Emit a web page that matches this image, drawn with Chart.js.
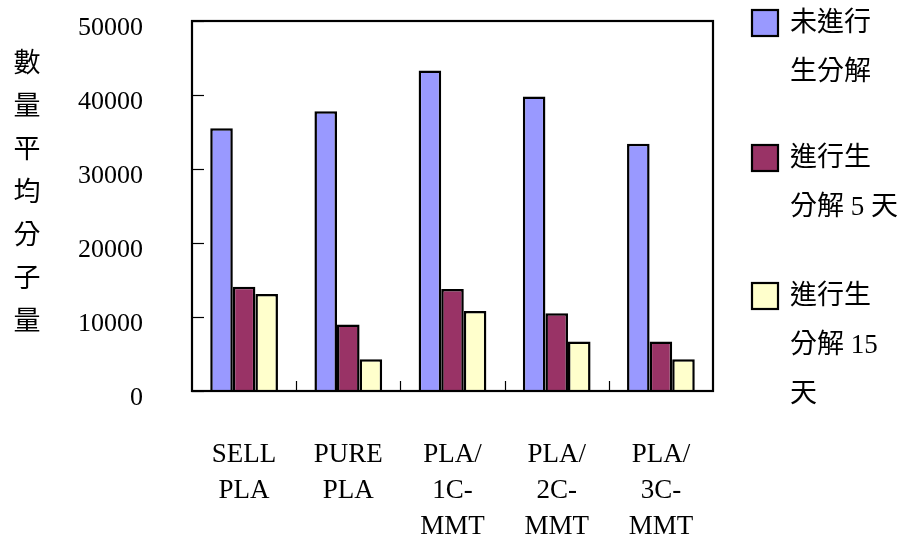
<!DOCTYPE html>
<html>
<head>
<meta charset="utf-8">
<script src="https://cdn.jsdelivr.net/npm/chart.js@4/dist/chart.umd.min.js"></script>
<style>
    html, body { margin: 0; padding: 0; background: #fff; }
    #wrap { width: 902px; height: 543px; }
</style>
</head>
<body>
<div id="wrap"><canvas id="chart" width="902" height="543"></canvas></div>
<script>
// --- DATA ---
const categories = [
    ['SELL', 'PLA'],
    ['PURE', 'PLA'],
    ['PLA/', '1C-', 'MMT'],
    ['PLA/', '2C-', 'MMT'],
    ['PLA/', '3C-', 'MMT']
];
const undegraded = [35500, 37800, 43300, 39800, 33400];
const degraded5 = [14100, 9000, 13800, 10500, 6700];
const degraded15 = [13100, 4300, 10800, 6700, 4300];
const seriesNames = [
    ['未進行', '生分解'],
    ['進行生', '分解 5 天'],
    ['進行生', '分解 15', '天']
];
const yTitle = ['數', '量', '平', '均', '分', '子', '量'];
const yMin = 0;
const yMax = 50000;
const yStep = 10000;

const colors = ['#9999ff', '#993366', '#ffffcc'];
const FONT = '"Liberation Serif", "Noto Sans CJK TC", serif';

// frame, inner tick marks, y title and legend
const decorations = {
    id: 'decorations',
    afterDraw(chart) {
        const ctx = chart.ctx;
        const area = chart.chartArea;
        const xs = chart.scales.x;
        const ys = chart.scales.y;
        ctx.save();
        ctx.strokeStyle = '#000';

        // tick marks inside the frame
        ctx.lineWidth = 1.2;
        ys.ticks.forEach(t => {
            const y = Math.round(ys.getPixelForValue(t.value)) + 0.5;
            ctx.beginPath();
            ctx.moveTo(area.left, y);
            ctx.lineTo(area.left + 12, y);
            ctx.stroke();
        });
        for (let i = 1; i < categories.length; i++) {
            const x = Math.round((xs.getPixelForValue(i - 1) + xs.getPixelForValue(i)) / 2) + 0.5;
            ctx.beginPath();
            ctx.moveTo(x, area.bottom);
            ctx.lineTo(x, area.bottom - 10);
            ctx.stroke();
        }

        // frame
        ctx.lineWidth = 2.2;
        ctx.strokeRect(area.left, area.top, area.right - area.left, area.bottom - area.top);

        // vertical y title
        ctx.fillStyle = '#000';
        ctx.font = '27px ' + FONT;
        ctx.textAlign = 'center';
        ctx.textBaseline = 'middle';
        yTitle.forEach((ch, i) => {
            ctx.fillText(ch, 27, 65 + i * 43);
        });

        // legend
        const boxTops = [10, 145, 283];
        chart.data.datasets.forEach((ds, i) => {
            const top = boxTops[i];
            ctx.fillStyle = ds.backgroundColor;
            ctx.fillRect(752, top, 26, 26);
            ctx.lineWidth = 2.2;
            ctx.strokeRect(752, top, 26, 26);
            ctx.fillStyle = '#000';
            ctx.textAlign = 'left';
            seriesNames[i].forEach((line, j) => {
                ctx.fillText(line, 790, top + 14 + j * 49);
            });
        });
        ctx.restore();
    }
};

function makeDataset(name, values, color) {
    return {
        label: name.join(''),
        data: values,
        backgroundColor: color,
        borderColor: '#000',
        borderWidth: 2.5,
        borderSkipped: 'start',
        categoryPercentage: 0.65,
        barPercentage: 1.0
    };
}

new Chart(document.getElementById('chart'), {
    type: 'bar',
    data: {
        labels: categories,
        datasets: [
            makeDataset(seriesNames[0], undegraded, colors[0]),
            makeDataset(seriesNames[1], degraded5, colors[1]),
            makeDataset(seriesNames[2], degraded15, colors[2])
        ]
    },
    options: {
        responsive: false,
        animation: false,
        devicePixelRatio: 1,
        layout: { padding: { left: 0, right: 189, top: 21, bottom: 0 } },
        plugins: {
            legend: { display: false },
            tooltip: { enabled: false }
        },
        scales: {
            x: {
                grid: { display: false, drawTicks: false },
                border: { display: false },
                ticks: {
                    color: '#000',
                    font: { family: FONT, size: 27, lineHeight: 1.33 },
                    padding: 46,
                    maxRotation: 0,
                    autoSkip: false
                },
                afterFit: s => {
                    s.height = 152;
                    s.paddingLeft = 0;
                    s.paddingRight = 0;
                }
            },
            y: {
                min: yMin,
                max: yMax,
                grid: { display: false, drawTicks: false },
                border: { display: false },
                ticks: {
                    stepSize: yStep,
                    color: '#000',
                    font: { family: FONT, size: 26 },
                    padding: 49,
                    labelOffset: 7,
                    callback: v => String(v)
                },
                afterFit: s => {
                    s.width = 192;
                    s.paddingTop = 0;
                    s.paddingBottom = 0;
                }
            }
        }
    },
    plugins: [decorations]
});
</script>
</body>
</html>
